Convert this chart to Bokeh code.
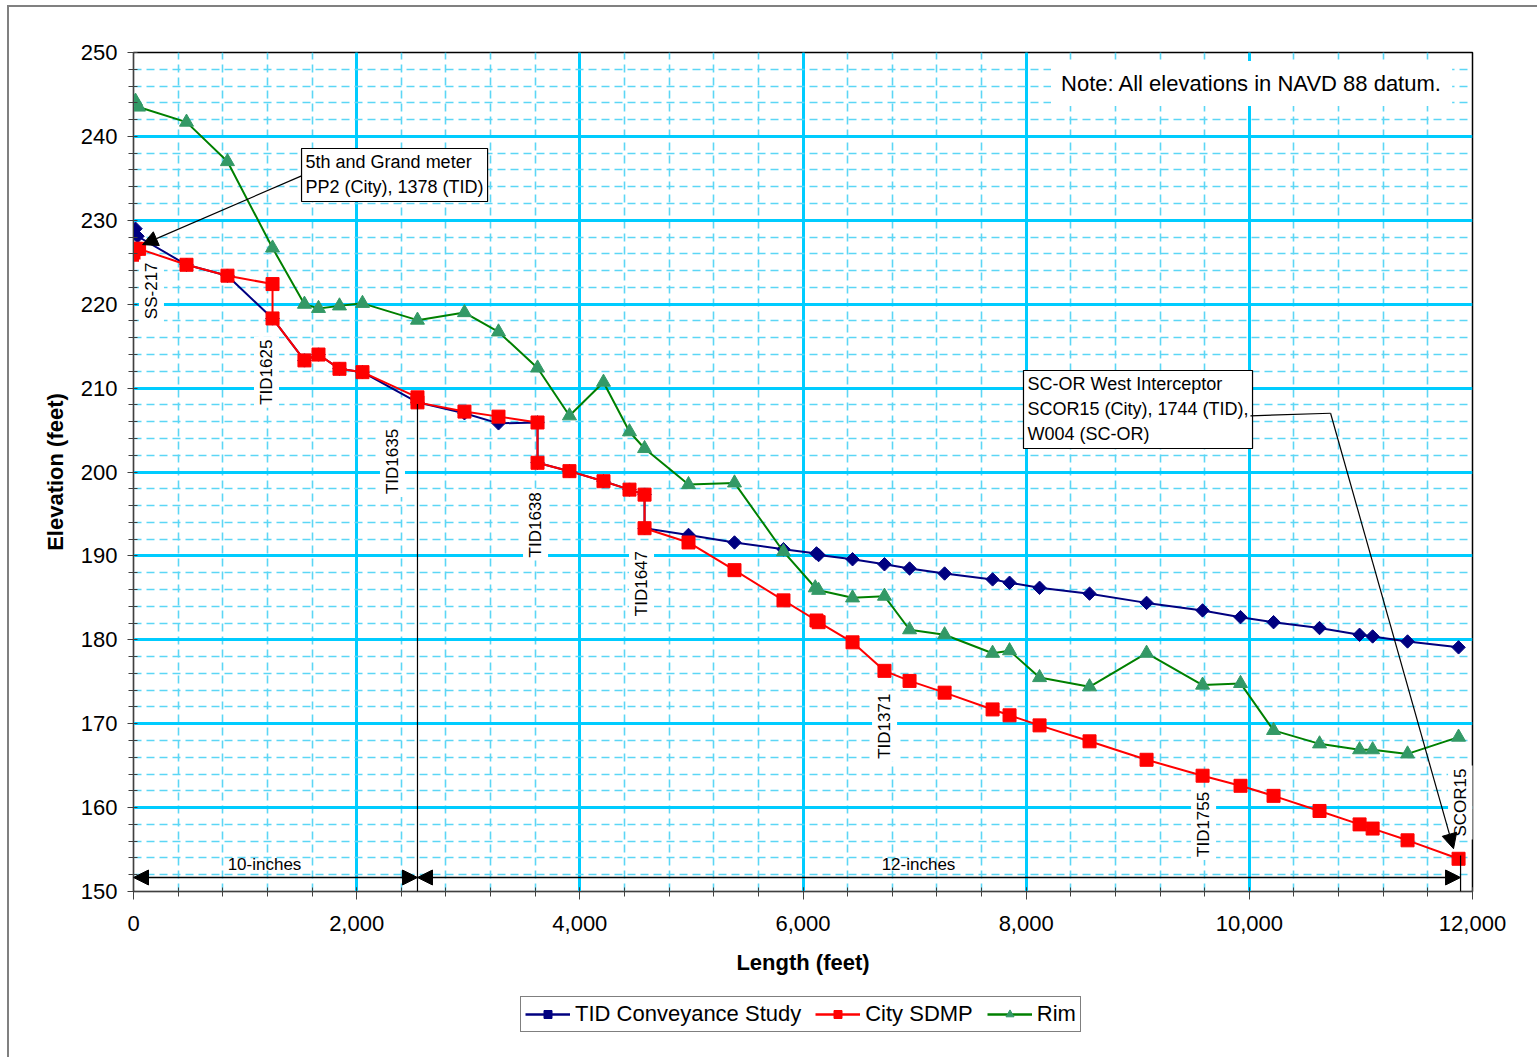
from bokeh.plotting import figure
from bokeh.layouts import column
from bokeh.models import (Range1d, SingleIntervalTicker, NumeralTickFormatter, Label,
                          Arrow, NormalHead, Legend, LegendItem)
from bokeh.embed import file_html
from bokeh.resources import INLINE

# ---------------- data ----------------
tid_x = [18, 36, 475, 842, 1246, 1532, 1658, 1846, 2052, 2545, 2966, 3271, 3621, 3621,
         3907, 4212, 4445, 4580, 4580, 4974, 5386, 5825, 6121, 6140, 6444, 6730, 6955, 7269,
         7699, 7851, 8120, 8568, 9079, 9581, 9921, 10217, 10629, 10988, 11105, 11418, 11875]
tid_y = [229.0, 228.1, 224.7, 223.4, 218.3, 213.3, 214.0, 212.3, 211.9, 208.3, 207.0, 205.8,
         205.9, 201.1, 200.1, 198.9, 197.9, 197.3, 193.3, 192.5, 191.6, 190.8, 190.3, 190.1,
         189.6, 189.0, 188.5, 187.9, 187.2, 186.8, 186.2, 185.5, 184.4, 183.5, 182.7, 182.1,
         181.4, 180.6, 180.4, 179.8, 179.1]

city_x = [0, 15, 50, 475, 842, 1246, 1246, 1532, 1658, 1846, 2052, 2545, 2545, 2966, 3271,
          3621, 3621, 3907, 4212, 4445, 4580, 4580, 4974, 5386, 5825, 6121, 6140, 6444, 6730,
          6955, 7269, 7699, 7851, 8120, 8568, 9079, 9581, 9921, 10217, 10629, 10988, 11105,
          11418, 11875]
city_y = [225.9, 226.6, 226.6, 224.7, 223.4, 222.4, 218.3, 213.3, 214.0, 212.3, 211.9, 208.9,
          208.3, 207.2, 206.6, 205.9, 201.1, 200.1, 198.9, 197.9, 197.3, 193.3, 191.6, 188.3,
          184.7, 182.3, 182.1, 179.7, 176.3, 175.1, 173.7, 171.7, 171.0, 169.8, 167.9, 165.7,
          163.8, 162.6, 161.4, 159.6, 158.0, 157.5, 156.1, 153.9]

rim_x = [18, 45, 475, 842, 1246, 1532, 1658, 1846, 2052, 2545, 2966, 3271, 3621, 3907, 4212,
         4445, 4580, 4974, 5386, 5825, 6110, 6140, 6444, 6730, 6955, 7269, 7699, 7851, 8120,
         8568, 9079, 9581, 9921, 10217, 10629, 10988, 11105, 11418, 11875]
rim_y = [244.2, 243.5, 241.7, 237.0, 226.7, 220.0, 219.5, 219.8, 220.1, 218.1, 219.0, 216.7,
         212.4, 206.7, 210.7, 204.8, 202.8, 198.5, 198.7, 190.5, 186.2, 185.9, 185.0, 185.2,
         181.2, 180.6, 178.4, 178.7, 175.5, 174.4, 178.4, 174.6, 174.8, 169.2, 167.6, 166.9,
         166.9, 166.4, 168.4]

series_names = ["TID Conveyance Study", "City SDMP", "Rim"]
series_colors = ["#000080", "#FF0000", "#008000"]
marker_colors = ["#000080", "#FF0000", "#339966"]

# manhole labels (text, length, elevation of label centre)
mh_labels = ["SS-217", "TID1625", "TID1635", "TID1638", "TID1647", "TID1371", "TID1755", "SCOR15"]
mh_x = [161, 1192, 2321, 3603, 4553, 6731, 9590, 11893]
mh_y = [221.6, 211.9, 201.25, 193.7, 186.7, 169.7, 158.0, 160.6]

FONT = "Liberation Sans"

p = figure(width=1528, height=978, x_range=Range1d(0, 12000), y_range=Range1d(150, 250),
           output_backend="svg", toolbar_location=None,
           min_border_left=124, min_border_right=65, min_border_top=45, min_border_bottom=94)
p.background_fill_color = "white"
p.border_fill_color = "white"
p.outline_line_color = "black"
p.outline_line_width = 1.5

xt = SingleIntervalTicker(interval=2000, num_minor_ticks=5)
yt = SingleIntervalTicker(interval=10, num_minor_ticks=5)
p.xaxis.ticker = xt
p.yaxis.ticker = yt
p.xgrid.ticker = xt
p.ygrid.ticker = yt
for g in (p.xgrid, p.ygrid):
    g.grid_line_color = "#00CCFF"
    g.grid_line_width = 3
    g.minor_grid_line_color = "#5CD6F5"
    g.minor_grid_line_width = 1.6
    g.minor_grid_line_dash = "8 5"

p.xaxis.formatter = NumeralTickFormatter(format="0,0")
for ax in (p.xaxis, p.yaxis):
    ax.axis_line_color = "#404040"
    ax.major_tick_line_color = "#404040"
    ax.minor_tick_line_color = "#404040"
    ax.major_label_text_font = FONT
    ax.major_label_text_font_size = "22px"
    ax.major_label_text_color = "black"
    ax.axis_label_text_font = FONT
    ax.axis_label_text_font_size = "22px"
    ax.axis_label_text_font_style = "bold"
    ax.axis_label_text_color = "black"
p.xaxis.axis_label = "Length (feet)"
p.yaxis.axis_label = "Elevation (feet)"
p.xaxis.major_tick_out = 8
p.xaxis.major_tick_in = 4
p.xaxis.minor_tick_out = 5
p.xaxis.minor_tick_in = 4
p.xaxis.major_label_standoff = 16
p.xaxis.axis_label_standoff = 16
p.yaxis.major_tick_out = 6
p.yaxis.major_tick_in = 0
p.yaxis.minor_tick_out = 5
p.yaxis.minor_tick_in = 4
p.yaxis.major_label_standoff = 10
p.yaxis.axis_label_standoff = 10

# series
xs_all = [tid_x, city_x, rim_x]
ys_all = [tid_y, city_y, rim_y]
markers = ["square", "square", "triangle"]
angles = [0.7854, 0, 0]
sizes = [9.5, 13, 14]
for xs, ys, lc, mc, mk, ang, sz in zip(xs_all, ys_all, series_colors, marker_colors,
                                       markers, angles, sizes):
    p.line(xs, ys, line_color=lc, line_width=2)
    p.scatter(xs, ys, marker=mk, angle=ang, size=sz, fill_color=mc, line_color=mc)

# manhole labels
for t, x, y in zip(mh_labels, mh_x, mh_y):
    p.add_layout(Label(x=x, y=y, text=t, angle=90, angle_units="deg", text_align="center",
                       text_baseline="middle", text_font=FONT, text_font_size="17px",
                       text_color="black", background_fill_color="white", padding=3))

# note
p.add_layout(Label(x=10020, y=246.3, text="Note: All elevations in NAVD 88 datum.",
                   text_align="center", text_baseline="middle", text_font=FONT,
                   text_font_size="22px", text_color="black",
                   background_fill_color="white", padding=10))

# callout boxes
p.add_layout(Label(x=1506, y=238.56, text="5th and Grand meter\nPP2 (City), 1378 (TID)",
                   text_align="left", text_baseline="top", text_font=FONT, text_font_size="18px",
                   text_line_height=1.25, text_color="black", background_fill_color="white",
                   border_line_color="black", border_line_width=1.2, padding=4))
p.add_layout(Label(x=7976, y=212.1,
                   text="SC-OR West Interceptor\nSCOR15 (City), 1744 (TID),\nW004 (SC-OR)",
                   text_align="left", text_baseline="top", text_font=FONT, text_font_size="18px",
                   text_line_height=1.25, text_color="black", background_fill_color="white",
                   border_line_color="black", border_line_width=1.2, padding=4))

# callout leaders
p.add_layout(Arrow(x_start=1506, y_start=235.3, x_end=81, y_end=227.1, line_color="black",
                   line_width=1.2, end=NormalHead(size=15, fill_color="black", line_color="black")))
p.add_layout(Arrow(x_start=10010, y_start=206.7, x_end=10728, y_end=207.0, line_color="black",
                   line_width=1.2, end=None))
p.add_layout(Arrow(x_start=10728, y_start=207.0, x_end=11830, y_end=155.1, line_color="black",
                   line_width=1.2, end=NormalHead(size=15, fill_color="black", line_color="black")))

# pipe size dimension lines
p.add_layout(Arrow(x_start=2545, y_start=208.1, x_end=2545, y_end=150, line_color="black",
                   line_width=1.2, end=None))
p.add_layout(Arrow(x_start=11893, y_start=154.3, x_end=11893, y_end=150, line_color="black",
                   line_width=1.2, end=None))
for xs, xe in [(0, 2545), (2545, 11893)]:
    p.add_layout(Arrow(x_start=xs, y_start=151.67, x_end=xe, y_end=151.67, line_color="black",
                       line_width=1.5,
                       start=NormalHead(size=15, fill_color="black", line_color="black"),
                       end=NormalHead(size=15, fill_color="black", line_color="black")))
p.add_layout(Label(x=1174, y=153.2, text="10-inches", text_align="center", text_baseline="middle",
                   text_font=FONT, text_font_size="17px", text_color="black"))
p.add_layout(Label(x=7035, y=153.2, text="12-inches", text_align="center", text_baseline="middle",
                   text_font=FONT, text_font_size="17px", text_color="black"))

# ---------------- legend strip (series drawn outside its visible range) ----------------
lg = figure(width=1528, height=72, output_backend="svg", toolbar_location=None,
            x_axis_type=None, y_axis_type=None, min_border=0,
            x_range=Range1d(-2, -1), y_range=Range1d(-2, -1))
lg.outline_line_color = None
lg.background_fill_color = "white"
lg.border_fill_color = "white"
items = []
for name, xs, ys, lc, mc, mk, ms, ang in zip(series_names, xs_all, ys_all, series_colors,
                                              marker_colors, markers, [10, 13, 14], angles):
    rl = lg.line(xs, ys, line_color=lc, line_width=2.5)
    rm = lg.scatter(xs, ys, marker=mk, size=ms, angle=ang, fill_color=mc, line_color=mc)
    items.append(LegendItem(label=name, renderers=[rl, rm]))
legend = Legend(items=items, orientation="horizontal", location=(387, 25))
legend.border_line_color = "black"
legend.border_line_width = 1.2
legend.background_fill_color = "white"
legend.background_fill_alpha = 1
legend.label_text_font = FONT
legend.label_text_font_size = "22px"
legend.label_text_color = "black"
legend.glyph_width = 45
legend.glyph_height = 20
legend.label_height = 20
legend.label_standoff = 5
legend.spacing = 14
legend.padding = 4
legend.margin = 0
lg.add_layout(legend, "center")

layout = column(p, lg, spacing=0)
layout.styles = {"border-left": "2px solid #808080", "border-top": "2px solid #808080",
                 "margin-left": "7px", "margin-top": "5px"}

open("out.html", "w").write(file_html(layout, INLINE))
